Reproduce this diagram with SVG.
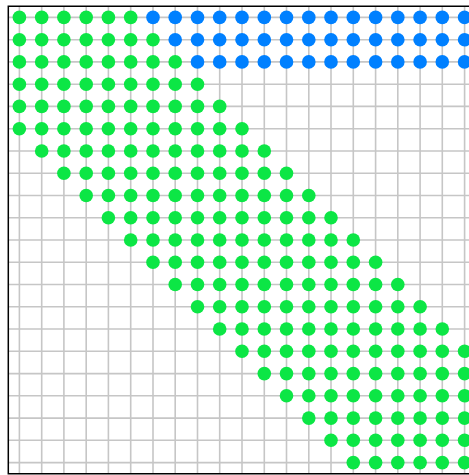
<svg xmlns="http://www.w3.org/2000/svg" width="469" height="475" viewBox="0 0 469 475">
<style>
.grid{stroke:#c6c6c6;stroke-width:1.6;fill:none}
.frame{stroke:#000;stroke-width:1.5;fill:none}
.g{fill:#0ce645}
.b{fill:#0080ff}
</style>
<rect width="469" height="475" fill="#fff"/>
<g id="connectors">
<path class="grid" d="M19.4 6.3V473.7M41.7 6.3V473.7M63.9 6.3V473.7M86.2 6.3V473.7M108.4 6.3V473.7M130.7 6.3V473.7M153 6.3V473.7M175.2 6.3V473.7M197.5 6.3V473.7M219.7 6.3V473.7M242 6.3V473.7M264.3 6.3V473.7M286.5 6.3V473.7M308.8 6.3V473.7M331 6.3V473.7M353.3 6.3V473.7M375.6 6.3V473.7M397.8 6.3V473.7M420.1 6.3V473.7M442.3 6.3V473.7M464.6 6.3V473.7M8.3 17.4H476M8.3 39.7H476M8.3 61.9H476M8.3 84.2H476M8.3 106.4H476M8.3 128.7H476M8.3 151H476M8.3 173.2H476M8.3 195.5H476M8.3 217.7H476M8.3 240H476M8.3 262.3H476M8.3 284.5H476M8.3 306.8H476M8.3 329H476M8.3 351.3H476M8.3 373.6H476M8.3 395.8H476M8.3 418.1H476M8.3 440.3H476M8.3 462.6H476"/>
</g>
<g id="row0">
<circle class="g" cx="19.4" cy="17.4" r="6.8"/><circle class="g" cx="41.7" cy="17.4" r="6.8"/><circle class="g" cx="63.9" cy="17.4" r="6.8"/><circle class="g" cx="86.2" cy="17.4" r="6.8"/><circle class="g" cx="108.4" cy="17.4" r="6.8"/><circle class="g" cx="130.7" cy="17.4" r="6.8"/>
<circle class="b" cx="153" cy="17.4" r="6.8"/><circle class="b" cx="175.2" cy="17.4" r="6.8"/><circle class="b" cx="197.5" cy="17.4" r="6.8"/><circle class="b" cx="219.7" cy="17.4" r="6.8"/><circle class="b" cx="242" cy="17.4" r="6.8"/><circle class="b" cx="264.3" cy="17.4" r="6.8"/><circle class="b" cx="286.5" cy="17.4" r="6.8"/><circle class="b" cx="308.8" cy="17.4" r="6.8"/><circle class="b" cx="331" cy="17.4" r="6.8"/><circle class="b" cx="353.3" cy="17.4" r="6.8"/><circle class="b" cx="375.6" cy="17.4" r="6.8"/><circle class="b" cx="397.8" cy="17.4" r="6.8"/><circle class="b" cx="420.1" cy="17.4" r="6.8"/><circle class="b" cx="442.3" cy="17.4" r="6.8"/><circle class="b" cx="464.6" cy="17.4" r="6.8"/>
</g>
<g id="row1">
<circle class="g" cx="19.4" cy="39.7" r="6.8"/><circle class="g" cx="41.7" cy="39.7" r="6.8"/><circle class="g" cx="63.9" cy="39.7" r="6.8"/><circle class="g" cx="86.2" cy="39.7" r="6.8"/><circle class="g" cx="108.4" cy="39.7" r="6.8"/><circle class="g" cx="130.7" cy="39.7" r="6.8"/><circle class="g" cx="153" cy="39.7" r="6.8"/>
<circle class="b" cx="175.2" cy="39.7" r="6.8"/><circle class="b" cx="197.5" cy="39.7" r="6.8"/><circle class="b" cx="219.7" cy="39.7" r="6.8"/><circle class="b" cx="242" cy="39.7" r="6.8"/><circle class="b" cx="264.3" cy="39.7" r="6.8"/><circle class="b" cx="286.5" cy="39.7" r="6.8"/><circle class="b" cx="308.8" cy="39.7" r="6.8"/><circle class="b" cx="331" cy="39.7" r="6.8"/><circle class="b" cx="353.3" cy="39.7" r="6.8"/><circle class="b" cx="375.6" cy="39.7" r="6.8"/><circle class="b" cx="397.8" cy="39.7" r="6.8"/><circle class="b" cx="420.1" cy="39.7" r="6.8"/><circle class="b" cx="442.3" cy="39.7" r="6.8"/><circle class="b" cx="464.6" cy="39.7" r="6.8"/>
</g>
<g id="row2">
<circle class="g" cx="19.4" cy="61.9" r="6.8"/><circle class="g" cx="41.7" cy="61.9" r="6.8"/><circle class="g" cx="63.9" cy="61.9" r="6.8"/><circle class="g" cx="86.2" cy="61.9" r="6.8"/><circle class="g" cx="108.4" cy="61.9" r="6.8"/><circle class="g" cx="130.7" cy="61.9" r="6.8"/><circle class="g" cx="153" cy="61.9" r="6.8"/><circle class="g" cx="175.2" cy="61.9" r="6.8"/>
<circle class="b" cx="197.5" cy="61.9" r="6.8"/><circle class="b" cx="219.7" cy="61.9" r="6.8"/><circle class="b" cx="242" cy="61.9" r="6.8"/><circle class="b" cx="264.3" cy="61.9" r="6.8"/><circle class="b" cx="286.5" cy="61.9" r="6.8"/><circle class="b" cx="308.8" cy="61.9" r="6.8"/><circle class="b" cx="331" cy="61.9" r="6.8"/><circle class="b" cx="353.3" cy="61.9" r="6.8"/><circle class="b" cx="375.6" cy="61.9" r="6.8"/><circle class="b" cx="397.8" cy="61.9" r="6.8"/><circle class="b" cx="420.1" cy="61.9" r="6.8"/><circle class="b" cx="442.3" cy="61.9" r="6.8"/><circle class="b" cx="464.6" cy="61.9" r="6.8"/>
</g>
<g id="row3">
<circle class="g" cx="19.4" cy="84.2" r="6.8"/><circle class="g" cx="41.7" cy="84.2" r="6.8"/><circle class="g" cx="63.9" cy="84.2" r="6.8"/><circle class="g" cx="86.2" cy="84.2" r="6.8"/><circle class="g" cx="108.4" cy="84.2" r="6.8"/><circle class="g" cx="130.7" cy="84.2" r="6.8"/><circle class="g" cx="153" cy="84.2" r="6.8"/><circle class="g" cx="175.2" cy="84.2" r="6.8"/><circle class="g" cx="197.5" cy="84.2" r="6.8"/>
</g>
<g id="row4">
<circle class="g" cx="19.4" cy="106.4" r="6.8"/><circle class="g" cx="41.7" cy="106.4" r="6.8"/><circle class="g" cx="63.9" cy="106.4" r="6.8"/><circle class="g" cx="86.2" cy="106.4" r="6.8"/><circle class="g" cx="108.4" cy="106.4" r="6.8"/><circle class="g" cx="130.7" cy="106.4" r="6.8"/><circle class="g" cx="153" cy="106.4" r="6.8"/><circle class="g" cx="175.2" cy="106.4" r="6.8"/><circle class="g" cx="197.5" cy="106.4" r="6.8"/><circle class="g" cx="219.7" cy="106.4" r="6.8"/>
</g>
<g id="row5">
<circle class="g" cx="19.4" cy="128.7" r="6.8"/><circle class="g" cx="41.7" cy="128.7" r="6.8"/><circle class="g" cx="63.9" cy="128.7" r="6.8"/><circle class="g" cx="86.2" cy="128.7" r="6.8"/><circle class="g" cx="108.4" cy="128.7" r="6.8"/><circle class="g" cx="130.7" cy="128.7" r="6.8"/><circle class="g" cx="153" cy="128.7" r="6.8"/><circle class="g" cx="175.2" cy="128.7" r="6.8"/><circle class="g" cx="197.5" cy="128.7" r="6.8"/><circle class="g" cx="219.7" cy="128.7" r="6.8"/><circle class="g" cx="242" cy="128.7" r="6.8"/>
</g>
<g id="row6">
<circle class="g" cx="41.7" cy="151" r="6.8"/><circle class="g" cx="63.9" cy="151" r="6.8"/><circle class="g" cx="86.2" cy="151" r="6.8"/><circle class="g" cx="108.4" cy="151" r="6.8"/><circle class="g" cx="130.7" cy="151" r="6.8"/><circle class="g" cx="153" cy="151" r="6.8"/><circle class="g" cx="175.2" cy="151" r="6.8"/><circle class="g" cx="197.5" cy="151" r="6.8"/><circle class="g" cx="219.7" cy="151" r="6.8"/><circle class="g" cx="242" cy="151" r="6.8"/><circle class="g" cx="264.3" cy="151" r="6.8"/>
</g>
<g id="row7">
<circle class="g" cx="63.9" cy="173.2" r="6.8"/><circle class="g" cx="86.2" cy="173.2" r="6.8"/><circle class="g" cx="108.4" cy="173.2" r="6.8"/><circle class="g" cx="130.7" cy="173.2" r="6.8"/><circle class="g" cx="153" cy="173.2" r="6.8"/><circle class="g" cx="175.2" cy="173.2" r="6.8"/><circle class="g" cx="197.5" cy="173.2" r="6.8"/><circle class="g" cx="219.7" cy="173.2" r="6.8"/><circle class="g" cx="242" cy="173.2" r="6.8"/><circle class="g" cx="264.3" cy="173.2" r="6.8"/><circle class="g" cx="286.5" cy="173.2" r="6.8"/>
</g>
<g id="row8">
<circle class="g" cx="86.2" cy="195.5" r="6.8"/><circle class="g" cx="108.4" cy="195.5" r="6.8"/><circle class="g" cx="130.7" cy="195.5" r="6.8"/><circle class="g" cx="153" cy="195.5" r="6.8"/><circle class="g" cx="175.2" cy="195.5" r="6.8"/><circle class="g" cx="197.5" cy="195.5" r="6.8"/><circle class="g" cx="219.7" cy="195.5" r="6.8"/><circle class="g" cx="242" cy="195.5" r="6.8"/><circle class="g" cx="264.3" cy="195.5" r="6.8"/><circle class="g" cx="286.5" cy="195.5" r="6.8"/><circle class="g" cx="308.8" cy="195.5" r="6.8"/>
</g>
<g id="row9">
<circle class="g" cx="108.4" cy="217.7" r="6.8"/><circle class="g" cx="130.7" cy="217.7" r="6.8"/><circle class="g" cx="153" cy="217.7" r="6.8"/><circle class="g" cx="175.2" cy="217.7" r="6.8"/><circle class="g" cx="197.5" cy="217.7" r="6.8"/><circle class="g" cx="219.7" cy="217.7" r="6.8"/><circle class="g" cx="242" cy="217.7" r="6.8"/><circle class="g" cx="264.3" cy="217.7" r="6.8"/><circle class="g" cx="286.5" cy="217.7" r="6.8"/><circle class="g" cx="308.8" cy="217.7" r="6.8"/><circle class="g" cx="331" cy="217.7" r="6.8"/>
</g>
<g id="row10">
<circle class="g" cx="130.7" cy="240" r="6.8"/><circle class="g" cx="153" cy="240" r="6.8"/><circle class="g" cx="175.2" cy="240" r="6.8"/><circle class="g" cx="197.5" cy="240" r="6.8"/><circle class="g" cx="219.7" cy="240" r="6.8"/><circle class="g" cx="242" cy="240" r="6.8"/><circle class="g" cx="264.3" cy="240" r="6.8"/><circle class="g" cx="286.5" cy="240" r="6.8"/><circle class="g" cx="308.8" cy="240" r="6.8"/><circle class="g" cx="331" cy="240" r="6.8"/><circle class="g" cx="353.3" cy="240" r="6.8"/>
</g>
<g id="row11">
<circle class="g" cx="153" cy="262.3" r="6.8"/><circle class="g" cx="175.2" cy="262.3" r="6.8"/><circle class="g" cx="197.5" cy="262.3" r="6.8"/><circle class="g" cx="219.7" cy="262.3" r="6.8"/><circle class="g" cx="242" cy="262.3" r="6.8"/><circle class="g" cx="264.3" cy="262.3" r="6.8"/><circle class="g" cx="286.5" cy="262.3" r="6.8"/><circle class="g" cx="308.8" cy="262.3" r="6.8"/><circle class="g" cx="331" cy="262.3" r="6.8"/><circle class="g" cx="353.3" cy="262.3" r="6.8"/><circle class="g" cx="375.6" cy="262.3" r="6.8"/>
</g>
<g id="row12">
<circle class="g" cx="175.2" cy="284.5" r="6.8"/><circle class="g" cx="197.5" cy="284.5" r="6.8"/><circle class="g" cx="219.7" cy="284.5" r="6.8"/><circle class="g" cx="242" cy="284.5" r="6.8"/><circle class="g" cx="264.3" cy="284.5" r="6.8"/><circle class="g" cx="286.5" cy="284.5" r="6.8"/><circle class="g" cx="308.8" cy="284.5" r="6.8"/><circle class="g" cx="331" cy="284.5" r="6.8"/><circle class="g" cx="353.3" cy="284.5" r="6.8"/><circle class="g" cx="375.6" cy="284.5" r="6.8"/><circle class="g" cx="397.8" cy="284.5" r="6.8"/>
</g>
<g id="row13">
<circle class="g" cx="197.5" cy="306.8" r="6.8"/><circle class="g" cx="219.7" cy="306.8" r="6.8"/><circle class="g" cx="242" cy="306.8" r="6.8"/><circle class="g" cx="264.3" cy="306.8" r="6.8"/><circle class="g" cx="286.5" cy="306.8" r="6.8"/><circle class="g" cx="308.8" cy="306.8" r="6.8"/><circle class="g" cx="331" cy="306.8" r="6.8"/><circle class="g" cx="353.3" cy="306.8" r="6.8"/><circle class="g" cx="375.6" cy="306.8" r="6.8"/><circle class="g" cx="397.8" cy="306.8" r="6.8"/><circle class="g" cx="420.1" cy="306.8" r="6.8"/>
</g>
<g id="row14">
<circle class="g" cx="219.7" cy="329" r="6.8"/><circle class="g" cx="242" cy="329" r="6.8"/><circle class="g" cx="264.3" cy="329" r="6.8"/><circle class="g" cx="286.5" cy="329" r="6.8"/><circle class="g" cx="308.8" cy="329" r="6.8"/><circle class="g" cx="331" cy="329" r="6.8"/><circle class="g" cx="353.3" cy="329" r="6.8"/><circle class="g" cx="375.6" cy="329" r="6.8"/><circle class="g" cx="397.8" cy="329" r="6.8"/><circle class="g" cx="420.1" cy="329" r="6.8"/><circle class="g" cx="442.3" cy="329" r="6.8"/>
</g>
<g id="row15">
<circle class="g" cx="242" cy="351.3" r="6.8"/><circle class="g" cx="264.3" cy="351.3" r="6.8"/><circle class="g" cx="286.5" cy="351.3" r="6.8"/><circle class="g" cx="308.8" cy="351.3" r="6.8"/><circle class="g" cx="331" cy="351.3" r="6.8"/><circle class="g" cx="353.3" cy="351.3" r="6.8"/><circle class="g" cx="375.6" cy="351.3" r="6.8"/><circle class="g" cx="397.8" cy="351.3" r="6.8"/><circle class="g" cx="420.1" cy="351.3" r="6.8"/><circle class="g" cx="442.3" cy="351.3" r="6.8"/><circle class="g" cx="464.6" cy="351.3" r="6.8"/>
</g>
<g id="row16">
<circle class="g" cx="264.3" cy="373.6" r="6.8"/><circle class="g" cx="286.5" cy="373.6" r="6.8"/><circle class="g" cx="308.8" cy="373.6" r="6.8"/><circle class="g" cx="331" cy="373.6" r="6.8"/><circle class="g" cx="353.3" cy="373.6" r="6.8"/><circle class="g" cx="375.6" cy="373.6" r="6.8"/><circle class="g" cx="397.8" cy="373.6" r="6.8"/><circle class="g" cx="420.1" cy="373.6" r="6.8"/><circle class="g" cx="442.3" cy="373.6" r="6.8"/><circle class="g" cx="464.6" cy="373.6" r="6.8"/>
</g>
<g id="row17">
<circle class="g" cx="286.5" cy="395.8" r="6.8"/><circle class="g" cx="308.8" cy="395.8" r="6.8"/><circle class="g" cx="331" cy="395.8" r="6.8"/><circle class="g" cx="353.3" cy="395.8" r="6.8"/><circle class="g" cx="375.6" cy="395.8" r="6.8"/><circle class="g" cx="397.8" cy="395.8" r="6.8"/><circle class="g" cx="420.1" cy="395.8" r="6.8"/><circle class="g" cx="442.3" cy="395.8" r="6.8"/><circle class="g" cx="464.6" cy="395.8" r="6.8"/>
</g>
<g id="row18">
<circle class="g" cx="308.8" cy="418.1" r="6.8"/><circle class="g" cx="331" cy="418.1" r="6.8"/><circle class="g" cx="353.3" cy="418.1" r="6.8"/><circle class="g" cx="375.6" cy="418.1" r="6.8"/><circle class="g" cx="397.8" cy="418.1" r="6.8"/><circle class="g" cx="420.1" cy="418.1" r="6.8"/><circle class="g" cx="442.3" cy="418.1" r="6.8"/><circle class="g" cx="464.6" cy="418.1" r="6.8"/>
</g>
<g id="row19">
<circle class="g" cx="331" cy="440.3" r="6.8"/><circle class="g" cx="353.3" cy="440.3" r="6.8"/><circle class="g" cx="375.6" cy="440.3" r="6.8"/><circle class="g" cx="397.8" cy="440.3" r="6.8"/><circle class="g" cx="420.1" cy="440.3" r="6.8"/><circle class="g" cx="442.3" cy="440.3" r="6.8"/><circle class="g" cx="464.6" cy="440.3" r="6.8"/>
</g>
<g id="row20">
<circle class="g" cx="353.3" cy="462.6" r="6.8"/><circle class="g" cx="375.6" cy="462.6" r="6.8"/><circle class="g" cx="397.8" cy="462.6" r="6.8"/><circle class="g" cx="420.1" cy="462.6" r="6.8"/><circle class="g" cx="442.3" cy="462.6" r="6.8"/><circle class="g" cx="464.6" cy="462.6" r="6.8"/>
</g>
<path id="frame" class="frame" d="M476 6.3H8.3V473.7H476"/>
</svg>
